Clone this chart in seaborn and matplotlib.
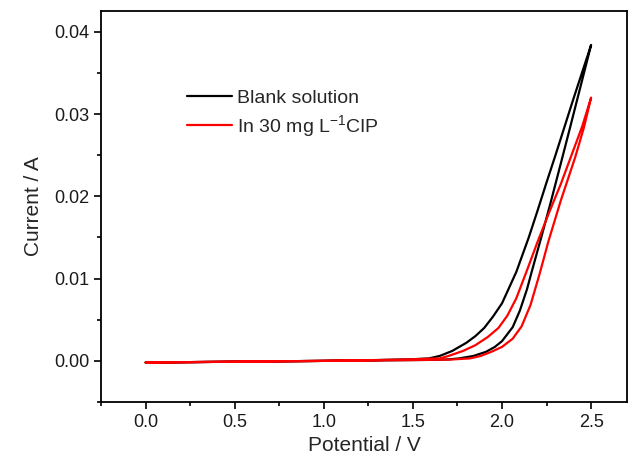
import numpy as np
import pandas as pd
import matplotlib
matplotlib.use("Agg")
import matplotlib.pyplot as plt
import seaborn as sns

# Blank solution: upper (higher current) and lower branch of the sweep
blank_up_v = [0.0, 0.25, 0.5, 0.75, 1.0, 1.3, 1.5, 1.59, 1.65, 1.72, 1.80, 1.85, 1.90, 1.95, 2.00,
              2.04, 2.08, 2.15, 2.20, 2.25, 2.30, 2.35, 2.40, 2.45, 2.50]
blank_up_i = [-0.0002, -0.00015, -0.0001, -0.00005, 0.0, 0.0001, 0.0002, 0.0003, 0.0006, 0.0012,
              0.0022, 0.0030, 0.0040, 0.0054, 0.0070, 0.0089, 0.0108, 0.0150, 0.0183, 0.0217,
              0.0250, 0.0284, 0.0318, 0.0351, 0.0384]
blank_dn_v = [2.50, 2.44, 2.38, 2.33, 2.27, 2.22, 2.17, 2.14, 2.10, 2.06, 2.00, 1.96, 1.91, 1.84,
              1.76, 1.70, 1.6, 1.5, 1.0, 0.5, 0.0]
blank_dn_i = [0.0384, 0.0333, 0.0282, 0.0240, 0.0190, 0.0150, 0.0111, 0.0087, 0.0061, 0.0041,
              0.0024, 0.0017, 0.0011, 0.0006, 0.0003, 0.00018, 0.00012, 0.0001, 0.0, -0.0001, -0.0002]

# In 30 mg/L CIP
cip_up_v = [0.0, 0.25, 0.5, 0.75, 1.0, 1.3, 1.5, 1.65, 1.70, 1.78, 1.85, 1.92, 1.98, 2.03, 2.08,
            2.14, 2.20, 2.26, 2.33, 2.39, 2.45, 2.50]
cip_up_i = [-0.0002, -0.00015, -0.0001, -0.00005, 0.0, 0.0001, 0.0002, 0.0003, 0.0006, 0.0012,
            0.0019, 0.0029, 0.0040, 0.0055, 0.0076, 0.0110, 0.0145, 0.0178, 0.0215, 0.0250,
            0.0285, 0.0320]
cip_dn_v = [2.50, 2.46, 2.41, 2.33, 2.26, 2.21, 2.16, 2.11, 2.06, 2.00, 1.94, 1.88, 1.82, 1.70,
            1.5, 1.0, 0.5, 0.0]
cip_dn_i = [0.0320, 0.0284, 0.0247, 0.0195, 0.0145, 0.0105, 0.0068, 0.0042, 0.0027, 0.0017,
            0.0011, 0.0006, 0.0003, 0.00015, 0.0001, 0.0, -0.0001, -0.0002]

labels = ["Blank solution", "In 30 mg L$^{-1}$CIP"]
colors = ["black", "red"]

sns.set_theme(style="ticks")
plt.rcParams["font.family"] = ["Liberation Sans", "DejaVu Sans"]
plt.rcParams["mathtext.fontset"] = "custom"
plt.rcParams["mathtext.rm"] = "Liberation Sans"
plt.rcParams["mathtext.it"] = "Liberation Sans:italic"

fig = plt.figure(figsize=(6.28, 4.68), dpi=100)
ax = fig.add_axes([0.161, 0.141, 0.837, 0.835])

curves = [(blank_up_v + blank_dn_v, blank_up_i + blank_dn_i),
          (cip_up_v + cip_dn_v, cip_up_i + cip_dn_i)]
for (v, i), lab, col in zip(curves, labels, colors):
    df = pd.DataFrame({"Potential": v, "Current": i})
    sns.lineplot(data=df, x="Potential", y="Current", sort=False, estimator=None,
                 color=col, lw=1.6, label=lab, ax=ax)

ax.set_xlim(-0.25, 2.7)
ax.set_ylim(-0.005, 0.0425)
ax.set_xticks([0.0, 0.5, 1.0, 1.5, 2.0, 2.5])
ax.set_xticks(np.arange(-0.25, 2.7, 0.25), minor=True)
ax.set_yticks([0.0, 0.01, 0.02, 0.03, 0.04])
ax.set_yticks(np.arange(-0.005, 0.042, 0.005), minor=True)
ax.set_xticklabels(["0.0", "0.5", "1.0", "1.5", "2.0", "2.5"])
ax.set_yticklabels(["0.00", "0.01", "0.02", "0.03", "0.04"])
ax.tick_params(which="major", length=5, width=1.2, labelsize=13, color="black", labelcolor="#1a1a1a")
ax.tick_params(which="minor", length=3, width=1.2, color="black")
for s in ax.spines.values():
    s.set_color("black")
    s.set_linewidth(1.3)

ax.set_xlabel("Potential / V", fontsize=15, labelpad=4)
ax.set_ylabel("Current / A", fontsize=15, labelpad=8)

ax.legend(loc="upper left", bbox_to_anchor=(0.13, 0.845), frameon=False, fontsize=14,
          handlelength=2.3, handletextpad=0.3, labelspacing=0.3)

fig.savefig("out.png", dpi=100)
